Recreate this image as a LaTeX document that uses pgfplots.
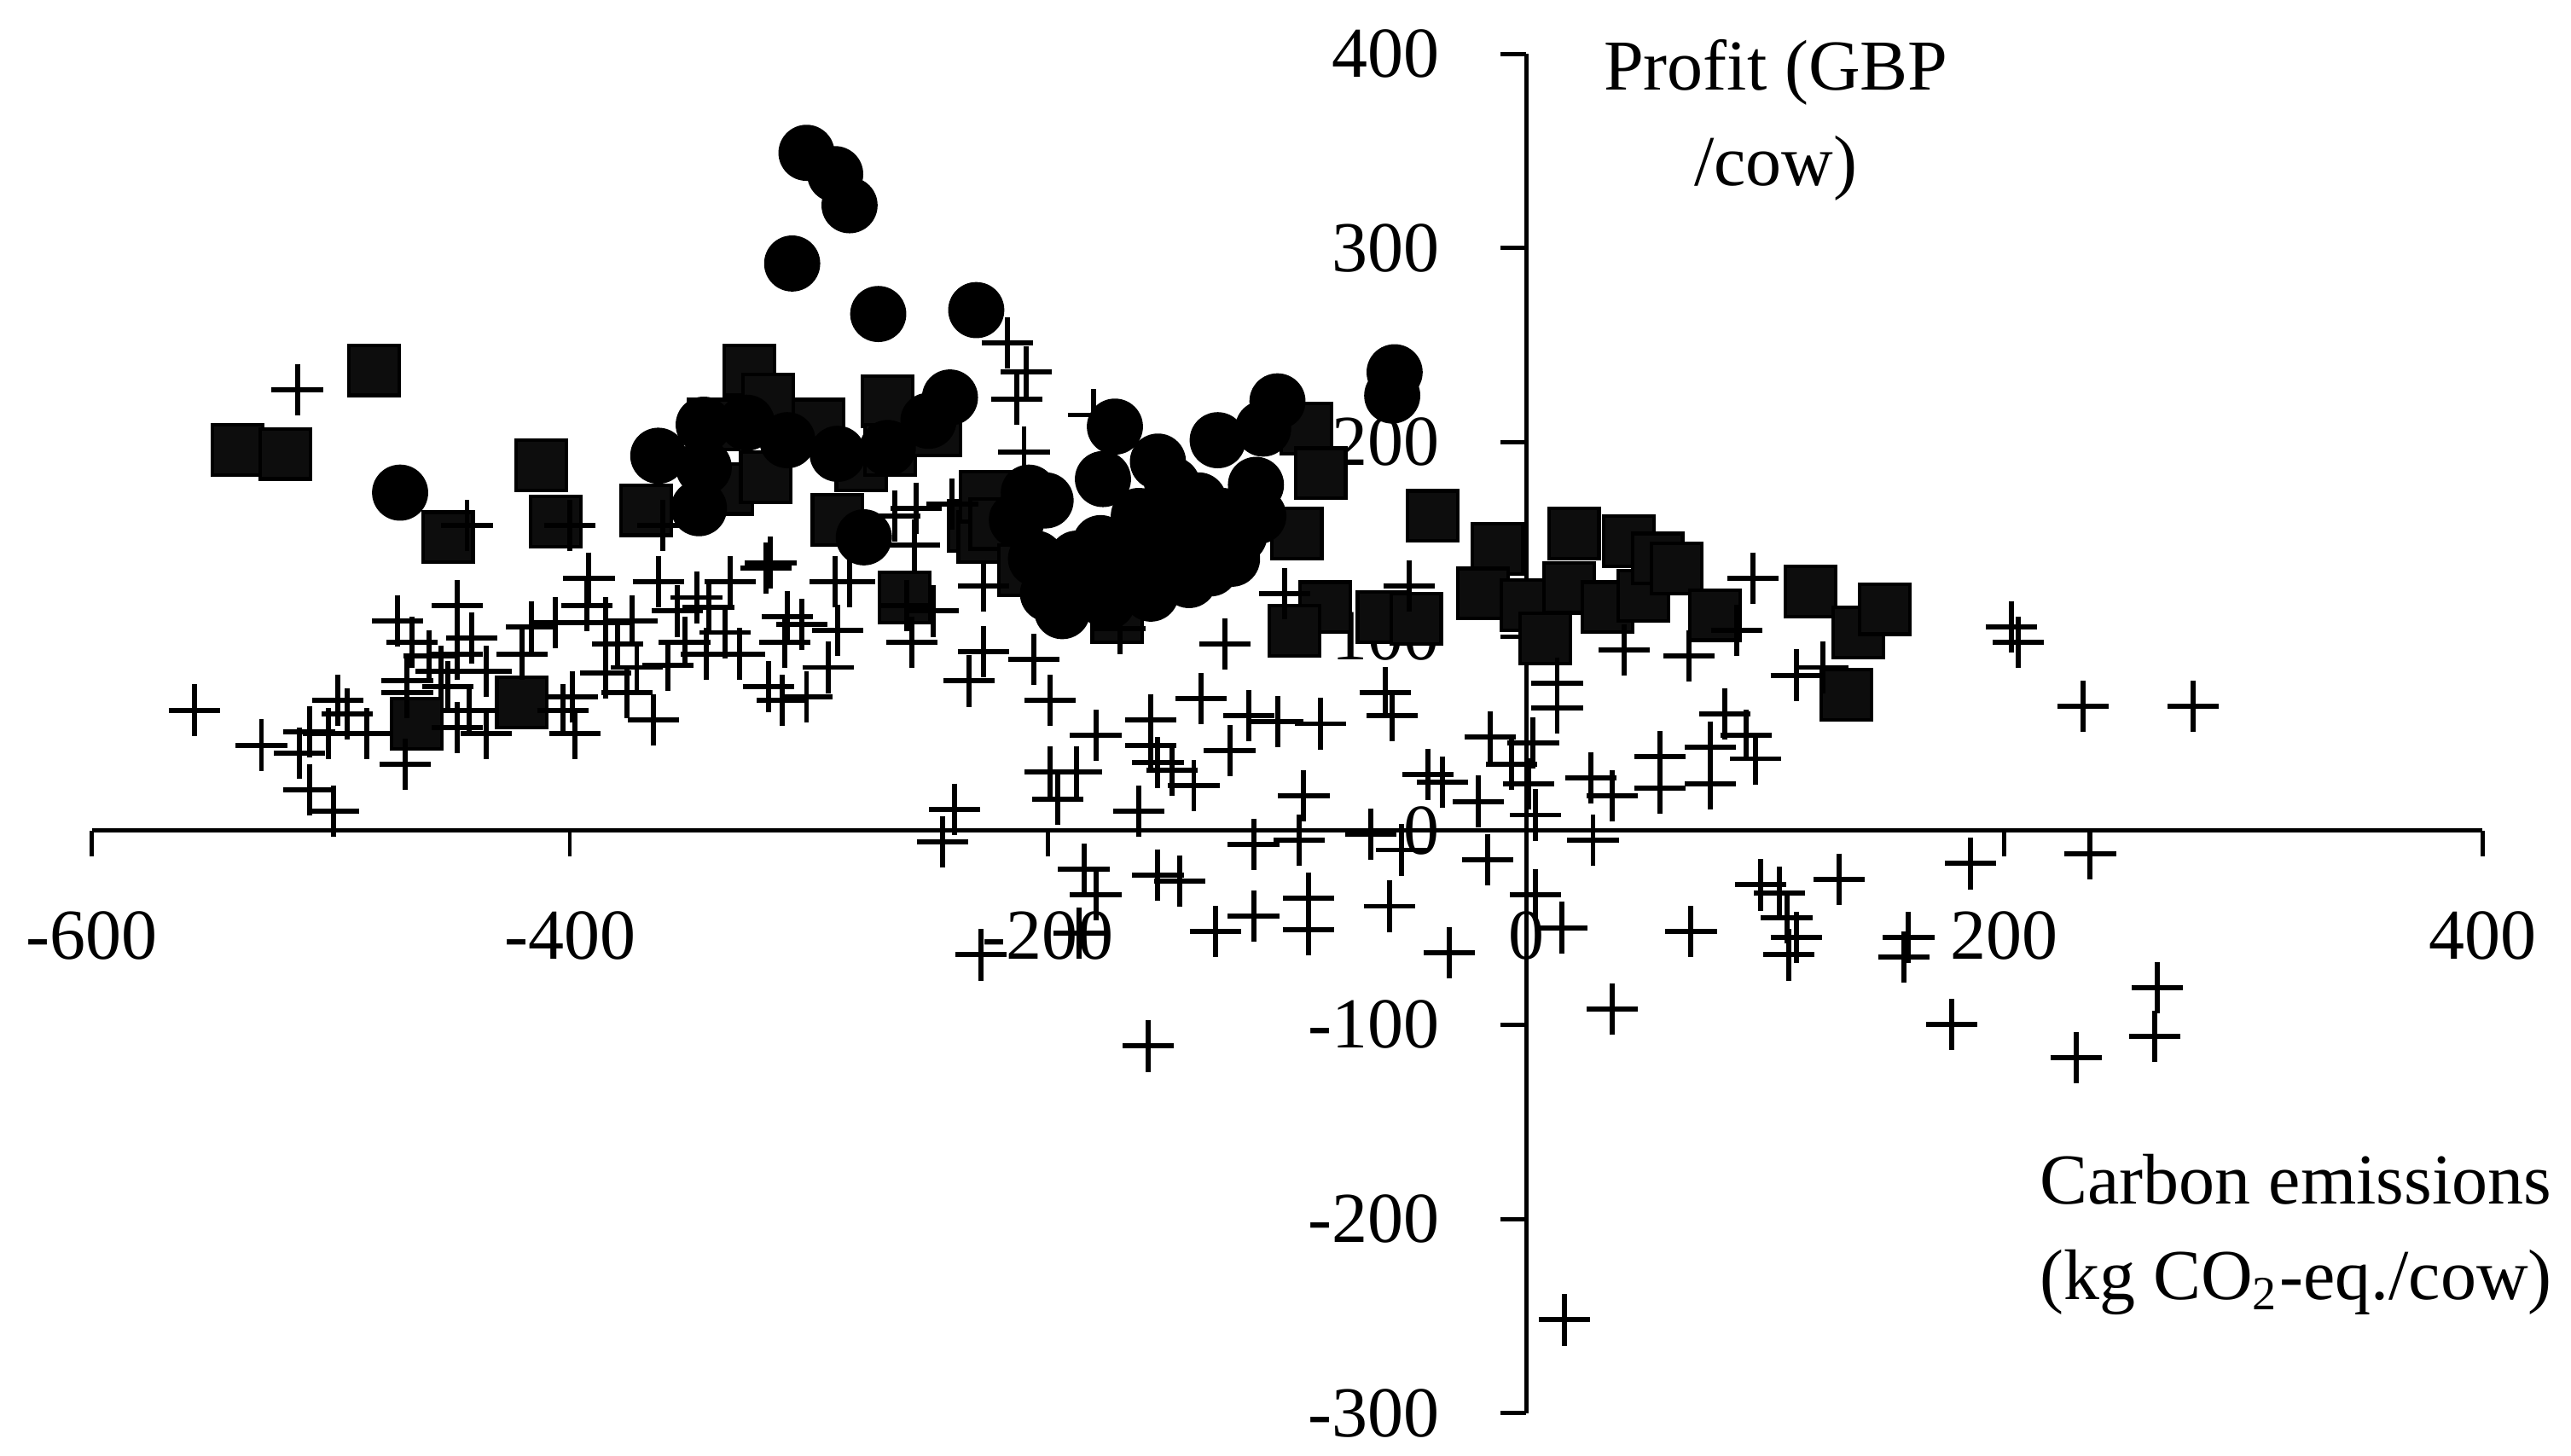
\documentclass[border=0pt]{standalone}
\usepackage{fontspec}
\setmainfont{Liberation Serif}
\usepackage{pgfplots}
\usepackage{pgfplotstable}
\pgfplotsset{compat=1.18}

% squares
\pgfplotstableread{
x y
-539 196
-519 194
-482 237
-451 151
-464 55
-420 66
-412 188
-406 159
-368 165
-340 209
-334 176
-325 237
-318 182
-317 222
-296 209
-288 160
-278 188
-267 221
-266 196
-260 120
-247 206
-231 157
-227 151
-226 172
-222 158
-210 134
-171 110
-92 207
-86 184
-96 153
-84 115
-97 103
-60 110
-46 109
-39 162
-12 145
-18 122
0 116
8 99
18 125
20 153
34 115
43 149
49 121
55 140
63 135
79 111
119 123
139 102
150 114
134 70
}\squares

% plus signs
\pgfplotstableread{
x y
-557 62
-529 44
-513 40
-509 51
-509 21
-499 10
-501 50
-497 67
-493 60
-485 50
-469 34
-472 108
-466 97
-459 90
-468 77
-468 71
-447 116
-441 99
-454 82
-451 74
-447 91
-435 82
-435 50
-442 62
-447 53
-416 105
-420 91
-406 107
-392 130
-403 62
-398 50
-393 116
-399 69
-514 227
-443 157
-400 157
-361 157
-316 138
-333 128
-363 128
-289 128
-318 135
-374 108
-355 113
-342 115
-347 120
-335 102
-352 97
-359 85
-343 91
-329 91
-309 110
-303 106
-310 97
-292 84
-288 103
-317 74
-311 67
-301 69
-365 57
-376 71
-385 81
-385 107
-380 96
-372 84
-256 147
-255 166
-240 168
-264 162
-283 128
-227 126
-259 116
-248 113
-257 97
-227 92
-233 77
-239 11
-244 -6
-209 236
-213 222
-210 195
-181 214
-217 251
-206 88
-126 96
-101 122
-170 104
-199 67
-180 49
-157 57
-136 68
-116 59
-104 56
-86 55
-59 71
-56 59
-124 41
-199 30
-196 16
-188 30
-157 44
-154 35
-148 31
-139 23
-162 10
-93 18
-41 29
-35 25
-65 -2
-52 -10
-185 -20
-180 -33
-154 -23
-145 -26
-114 -7
-95 -5
-91 -35
-91 -51
-114 -44
-130 -52
-57 -39
-32 -63
-187 -53
-158 -111
-228 -64
-49 126
-15 48
-20 15
-16 -15
3 45
-6 34
1 24
4 8
4 -33
15 -50
13 76
13 63
27 27
36 18
28 -5
41 93
68 90
88 103
95 130
56 38
56 22
77 43
77 24
83 60
92 49
96 37
98 -28
106 -32
109 -45
113 -55
110 -64
69 -52
113 80
124 84
203 105
206 97
233 64
279 64
186 -17
236 -12
131 -25
160 -55
158 -65
178 -100
230 -117
264 -81
263 -106
36 -92
16 -252
}\pluses

% circles
\pgfplotstableread{
x y
-301 349
-289 338
-283 322
-307 292
-271 266
-230 268
-55 236
-56 224
-471 174
-241 223
-250 211
-267 197
-277 151
-363 193
-344 209
-344 187
-346 166
-326 210
-309 201
-288 194
-172 208
-104 221
-110 207
-129 201
-154 190
-177 181
-208 174
-201 170
-113 178
-123 140
-141 129
-157 122
-194 113
-195 132
-178 148
-162 162
-148 178
-138 148
-127 162
-213 160
-205 140
-200 122
-188 140
-185 125
-172 135
-165 150
-152 145
-150 162
-137 170
-120 152
-112 162
-132 135
-175 118
-160 135
}\circles

\begin{document}
\fontsize{12}{16}\selectfont
\begin{tikzpicture}
\begin{axis}[
    scale only axis,
    width=400.4pt,
    height=227.7pt,
    xmin=-600, xmax=400,
    ymin=-300, ymax=400,
    axis lines=middle,
    axis line style={-, line width=0.7pt},
    xtick={-600,-400,-200,0,200,400},
    xticklabels={-600,-400,-200,0,200,400},
    ytick={-300,-200,-100,0,100,200,300,400},
    yticklabels={-300,-200,-100,0,100,200,300,400},
    hide obscured x ticks=false,
    hide obscured y ticks=false,
    tick align=outside,
    major tick length=4.3pt,
    tick style={line width=0.7pt, black},
    tick label style={font=\fontsize{12}{14}\selectfont, inner sep=0pt},
    xticklabel style={anchor=north, yshift=-9pt},
    yticklabel style={anchor=east, xshift=-10pt},
    clip=false,
]
\addplot[only marks, mark=square*, mark size=4.2pt,
    mark options={fill=black!95, draw=black, line width=0.6pt}] table {\squares};
\addplot[only marks, mark=+, mark size=4.3pt,
    mark options={draw=black, line width=0.85pt}] table {\pluses};
\addplot[only marks, mark=*, mark size=4.5pt,
    mark options={fill=black, draw=none}] table {\circles};

\node[anchor=north, align=center, inner sep=0pt] at (axis cs:104.5,408) {Profit (GBP\\/cow)};
\node[anchor=north, align=center, inner sep=0pt] at (axis cs:322,-166) {Carbon emissions\\(kg CO\textsubscript{2}-eq./cow)};
\end{axis}
\pgfresetboundingbox
\path[use as bounding box] (-15.36pt,-7.14pt) rectangle (415.26pt,236.7pt);
\end{tikzpicture}
\end{document}
